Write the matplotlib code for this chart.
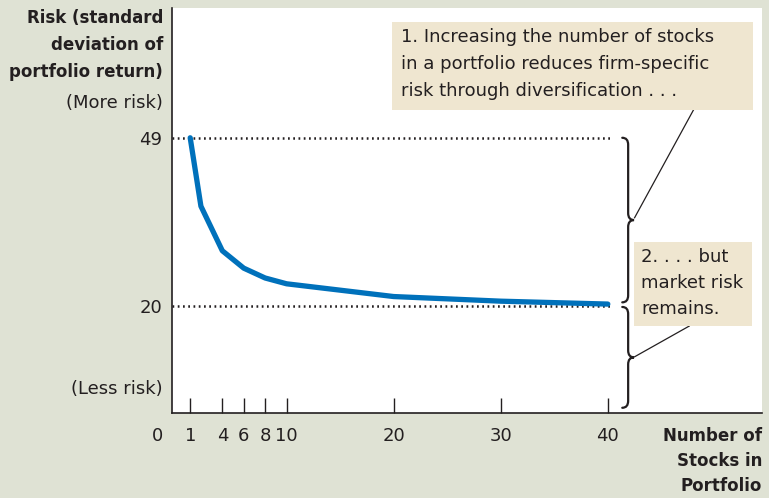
import matplotlib.pyplot as plt
from matplotlib.patches import Rectangle
from matplotlib.path import Path
from matplotlib.patches import PathPatch

# data
n_stocks = [1, 2, 4, 6, 8, 10, 20, 30, 40]
risk = [49, 37.2, 29.5, 26.5, 24.8, 23.8, 21.6, 20.8, 20.3]
x_ticks = [1, 4, 6, 8, 10, 20, 30, 40]
y_ticks = [49, 20]
note_1 = ["1. Increasing the number of stocks",
          "in a portfolio reduces firm-specific",
          "risk through diversification . . ."]
note_2 = ["2. . . . but", "market risk", "remains."]

BG = '#dfe2d4'
BOX = '#efe6d0'
BLUE = '#0071bb'
INK = '#231f20'
W, H = 769, 498

plt.rcParams['font.family'] = ['DejaVu Sans']


def fx(px):
    return px / W


def fy(py):
    return 1 - py / H


fig = plt.figure(figsize=(W / 100, H / 100), dpi=100, facecolor=BG)
ax = fig.add_axes([fx(172), fy(413), fx(762) - fx(172), fy(8) - fy(413)])
ax.set_facecolor('white')
ax.set_xlim(-0.7, 54.4)
ax.set_ylim(1.5, 71.4)
for s in ['top', 'right']:
    ax.spines[s].set_visible(False)
for s in ['left', 'bottom']:
    ax.spines[s].set_color(INK)
    ax.spines[s].set_linewidth(1.2)

ax.plot(n_stocks, risk, color=BLUE, lw=3.8, solid_capstyle='round', zorder=3)

# dotted guide lines
for yv in y_ticks:
    ax.plot([-0.7, 40.4], [yv, yv], color=INK, lw=1.8, ls=(0, (0.7, 1.4)), zorder=2)

ax.set_xticks(x_ticks)
ax.set_xticklabels([])
ax.tick_params(axis='x', direction='in', length=11, width=1, color=INK)
ax.set_yticks(y_ticks)
ax.set_yticklabels([str(v) for v in y_ticks], fontsize=13, color=INK)
ax.tick_params(axis='y', length=0, pad=7)

# x tick labels drawn below the axis
for xv in [0] + x_ticks:
    xpos = -2.1 if xv == 0 else xv
    ax.text(xpos, -0.035, str(xv), transform=ax.get_xaxis_transform(),
            ha='center', va='top', fontsize=13, color=INK)


# curly braces
def brace(x0, y_top, y_bot, tip):
    ym = (y_top + y_bot) / 2
    hx = 0.55
    hy = 1.2
    verts = [(x0 - hx, y_top), (x0, y_top), (x0, y_top - hy),
             (x0, ym + hy), (x0, ym), (x0 + tip, ym),
             (x0, ym), (x0, ym - hy),
             (x0, y_bot + hy), (x0, y_bot), (x0 - hx, y_bot)]
    codes = [Path.MOVETO, Path.CURVE3, Path.CURVE3,
             Path.LINETO, Path.CURVE3, Path.CURVE3,
             Path.CURVE3, Path.CURVE3,
             Path.LINETO, Path.CURVE3, Path.CURVE3]
    ax.add_patch(PathPatch(Path(verts, codes), fill=False, edgecolor=INK,
                           lw=1.6, capstyle='round', zorder=4))


brace(41.9, 49, 20.6, 0.55)
brace(41.9, 19.8, 2.4, 0.55)

# leader lines
ax.plot([42.5, 48.0], [35.2, 53.8], color=INK, lw=0.9, zorder=4)
ax.plot([42.5, 47.6], [11.2, 16.5], color=INK, lw=0.9, zorder=4)

# callout boxes
fig.patches.append(Rectangle((fx(392), fy(110)), fx(753) - fx(392), fy(22) - fy(110),
                             transform=fig.transFigure, facecolor=BOX, edgecolor='none', zorder=5))
for i, line in enumerate(note_1):
    fig.text(fx(401), fy(37 + 27 * i), line, ha='left', va='center',
             fontsize=13, color=INK, zorder=6)
fig.patches.append(Rectangle((fx(634), fy(326)), fx(752) - fx(634), fy(242) - fy(326),
                             transform=fig.transFigure, facecolor=BOX, edgecolor='none', zorder=5))
for i, line in enumerate(note_2):
    fig.text(fx(641), fy(257 + 26 * i), line, ha='left', va='center',
             fontsize=13, color=INK, zorder=6)

# axis titles
for i, line in enumerate(["Risk (standard", "deviation of", "portfolio return)"]):
    fig.text(fx(163), fy(18 + 27 * i), line, ha='right', va='center',
             fontsize=12, fontweight='bold', color=INK)
fig.text(fx(163), fy(103), "(More risk)", ha='right', va='center', fontsize=13, color=INK)
fig.text(fx(163), fy(389), "(Less risk)", ha='right', va='center', fontsize=13, color=INK)
for i, line in enumerate(["Number of", "Stocks in", "Portfolio"]):
    fig.text(fx(762), fy(436 + 25 * i), line, ha='right', va='center',
             fontsize=12, fontweight='bold', color=INK)

fig.savefig('out.png', dpi=100, facecolor=BG)
